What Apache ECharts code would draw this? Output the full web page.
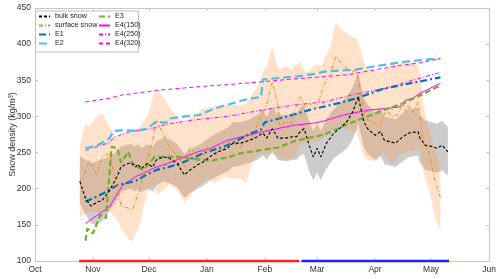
<!DOCTYPE html>
<html><head><meta charset="utf-8">
<script src="https://cdn.jsdelivr.net/npm/echarts@6/dist/echarts.min.js"></script>
<style>html,body{margin:0;padding:0;background:#fff}#c{width:500px;height:279px}</style>
</head><body><div id="c"></div>
<script>
// x values are days since 1 October
const monthDays = [0,31,61,92,123,151,182,212,243];
const monthNames = ['Oct','Nov','Dec','Jan','Feb','Mar','Apr','May','Jun'];

const bulkDays = [24,27,30,33,36,40,44,46,48,51,54,55,57,60,63,65,69,72,76,80,83,87,90,94,98,103,106,110,115,119,122,124,127,130,134,138,140,142,144,147,149,151,153,156,160,163,167,170,172,173,176,178,182,185,187,193,197,200,205,206,209,213,215,218,221];
const bulkVals = [210,187,176,181,184,198,217,230,233,236,230,234,228,235,230,240,244,242,235,219,226,233,237,245,251,256,263,263,267,272,277,270,283,270,270,272,272,279,283,258,244,256,244,263,277,283,293,306,320,327,293,283,274,279,267,263,272,277,279,270,260,258,256,260,251];
const bulkUpper = [245,240,235,238,240,245,252,258,260,262,258,262,256,262,258,266,270,268,262,248,254,260,264,272,278,284,292,292,296,302,308,300,314,302,302,304,304,312,316,292,280,290,280,297,310,318,328,340,354,360,326,316,306,312,300,296,305,310,312,302,294,292,290,294,285];
const bulkLower = [180,165,152,150,155,170,185,195,198,200,196,200,195,200,196,205,210,208,202,188,194,200,204,212,218,224,230,232,236,240,246,240,250,240,238,240,240,246,248,222,212,222,212,228,242,248,256,268,282,290,258,248,240,246,234,230,238,244,246,236,226,224,222,226,218];

const surfDays = [24,27,29,33,36,40,44,46,50,52,56,60,63,65,69,72,76,80,83,87,89,92,96,101,105,110,113,116,119,122,124,127,130,131,134,137,139,142,145,147,150,153,155,158,161,164,167,170,172,174,176,178,181,184,186,188,191,194,197,198,200,202,205,206,208,211,214,217];
const surfVals = [210,224,240,219,244,249,200,177,173,170,198,240,267,294,274,256,247,230,258,245,240,258,249,255,267,256,274,265,290,305,316,348,316,286,293,290,309,327,313,318,309,330,345,357,383,373,366,362,364,337,306,295,293,286,297,309,300,302,320,306,316,304,320,300,262,250,212,188];
const surfUpper = [260,290,286,300,304,285,268,275,280,282,285,300,325,340,325,312,300,290,298,305,310,312,314,316,316,316,318,330,340,362,370,396,368,365,370,365,370,375,360,364,372,370,380,395,431,420,415,410,408,395,375,366,364,362,362,366,373,372,374,374,375,376,370,360,315,280,255,230];
const surfLower = [161,165,168,168,166,168,157,145,130,127,150,195,207,192,198,207,198,182,189,205,207,215,207,217,214,214,208,235,247,249,246,252,245,240,242,240,245,262,264,265,265,268,272,280,286,285,282,280,278,262,245,240,238,240,251,245,235,244,250,248,253,252,255,258,221,198,161,143];

const e1Days = [27,33,40,44,51,55,60,65,70,78,90,103,116,121,123,135,147,162,172,186,201,217];
const e1Vals = [182,189,198,205,209,212,220,226,229,235,249,260,277,282,292,300,309,318,325,338,346,354];

const e2Days = [27,33,37,40,42,47,54,60,65,70,72,80,88,96,103,112,121,122,130,139,150,155,172,186,199,211,217];
const e2Vals = [256,260,265,270,280,281,280,283,293,291,297,300,302,311,316,323,327,351,353,355,359,362,365,371,376,379,380];

const e3Days = [27,28,31,35,38,41,44,46,50,52,55,58,62,64,71,76,83,88,95,104,110,120,130,139,155,167,176,188,197,206,217];
const e3Vals = [128,145,138,164,159,258,256,236,251,236,230,226,238,244,244,244,242,240,239,244,249,253,257,266,275,289,298,310,318,329,343];

const e4aDays = [27,31,36,40,43,47,54,58,63,71,78,87,94,103,111,122,126,139,150,155,165,179,188,195,198,202,206,217];
const e4aVals = [152,159,168,175,189,205,217,221,228,235,242,251,256,267,272,279,281,288,291,294,302,309,311,313,322,325,332,346];

const e4bDays = [27,40,42,49,62,72,88,103,122,139,155,170,188,202,217];
const e4bVals = [253,264,270,278,283,290,296,300,309,316,320,330,339,350,361];

const e4cDays = [27,40,45,65,87,103,122,139,155,168,194,206,217];
const e4cVals = [320,325,329,336,341,344,348,352,355,358,370,374,380];

const redPeriod = [23.6, 141.4];
const bluePeriod = [142.6, 221.6];

const FONT = 'Liberation Sans, Arial, Helvetica, sans-serif';
const axisCol = '#c8c8c8';
const txtCol = '#333333';

function pairs(d, v) { return d.map((x, i) => [x, v[i]]); }
function line(name, d, v, color, width, type, z) {
  return { type: 'line', name, data: pairs(d, v), symbol: 'none', showSymbol: false,
    lineStyle: { color, width, type }, itemStyle: { color }, z: z || 3, silent: true };
}
function band(name, d, up, lo, fill) {
  return {
    type: 'custom', name, silent: true, z: 1,
    data: [[d[0], up[0]]], encode: { x: 0, y: 1 },
    renderItem(params, api) {
      const pts = [];
      for (let i = 0; i < d.length; i++) pts.push(api.coord([d[i], up[i]]));
      for (let i = d.length - 1; i >= 0; i--) pts.push(api.coord([d[i], lo[i]]));
      return { type: 'polygon', shape: { points: pts }, style: { fill } };
    }
  };
}
function period(p, color) {
  return { type: 'line', data: [[p[0], 100], [p[1], 100]], symbol: 'none', clip: false,
    lineStyle: { color, width: 2.5 }, z: 10, silent: true };
}

const chart = echarts.init(document.getElementById('c'), null, { renderer: 'canvas' });
const legendCommon = { orient: 'vertical', top: 13, itemWidth: 11, itemHeight: 8, itemGap: 2,
  padding: 0, itemStyle: { opacity: 0 },
  textStyle: { fontSize: 7.2, color: '#262626', fontFamily: FONT }, selectedMode: false };

chart.setOption({
  animation: false,
  textStyle: { fontFamily: FONT },
  grid: { left: 35, right: 11, top: 8, bottom: 18, containLabel: false, outerBoundsMode: 'none' },
  xAxis: [
    { type: 'value', min: 0, max: 243, position: 'bottom',
      axisLine: { show: true, onZero: false, lineStyle: { color: axisCol } },
      axisTick: { show: true, inside: true, length: 3, customValues: monthDays, lineStyle: { color: axisCol } },
      axisLabel: { customValues: monthDays, formatter: v => monthNames[monthDays.indexOf(v)],
        fontSize: 8.5, color: txtCol, margin: 4 },
      splitLine: { show: false } },
    { type: 'value', min: 0, max: 243, position: 'top',
      axisLine: { show: true, onZero: false, lineStyle: { color: axisCol } },
      axisTick: { show: true, inside: true, length: 3, customValues: monthDays, lineStyle: { color: axisCol } },
      axisLabel: { show: false }, splitLine: { show: false } }
  ],
  yAxis: [
    { type: 'value', min: 100, max: 450, interval: 50, position: 'left',
      axisLine: { show: true, onZero: false, lineStyle: { color: axisCol } },
      axisTick: { show: true, inside: true, length: 3, lineStyle: { color: axisCol } },
      axisLabel: { fontSize: 8.5, color: txtCol, margin: 4 },
      splitLine: { show: false },
      name: 'Snow density (kg/m³)', nameLocation: 'middle', nameGap: 18, nameMoveOverlap: false,
      nameTextStyle: { fontSize: 9, color: txtCol } },
    { type: 'value', min: 100, max: 450, interval: 50, position: 'right',
      axisLine: { show: true, onZero: false, lineStyle: { color: axisCol } },
      axisTick: { show: true, inside: true, length: 3, lineStyle: { color: axisCol } },
      axisLabel: { show: false }, splitLine: { show: false } }
  ],
  graphic: [{ type: 'rect', left: 35, top: 10.5, z: 3,
    shape: { width: 103, height: 41 }, style: { fill: '#ffffff', stroke: '#bdbdbd', lineWidth: 1 } }],
  legend: [
    Object.assign({ left: 38, data: ['bulk snow', 'surface snow', 'E1', 'E2'] }, legendCommon),
    Object.assign({ left: 98, data: ['E3', 'E4(150)', 'E4(250)', 'E4(320)'] }, legendCommon)
  ],
  series: [
    band('bulk band', bulkDays, bulkUpper, bulkLower, 'rgba(128,128,128,0.4)'),
    band('surface band', surfDays, surfUpper, surfLower, 'rgba(255,140,40,0.25)'),
    line('E4(320)', e4cDays, e4cVals, '#FF00FF', 1, [4, 3]),
    line('E4(250)', e4bDays, e4bVals, '#FF00FF', 1, [4, 2, 1, 2]),
    line('E4(150)', e4aDays, e4aVals, '#FF00FF', 1, 'solid'),
    line('E3', e3Days, e3Vals, '#77AC30', 2.2, [6, 3]),
    line('E2', e2Days, e2Vals, '#4DBEEE', 2.2, [8, 4]),
    line('E1', e1Days, e1Vals, '#0072BD', 2.2, [7, 3, 2, 3]),
    line('surface snow', surfDays, surfVals, '#F7861C', 1, [4, 2, 1, 2]),
    line('bulk snow', bulkDays, bulkVals, '#000000', 1.1, [3, 2]),
    period(redPeriod, '#FF2020'),
    period(bluePeriod, '#2020FF')
  ]
});
</script></body></html>
